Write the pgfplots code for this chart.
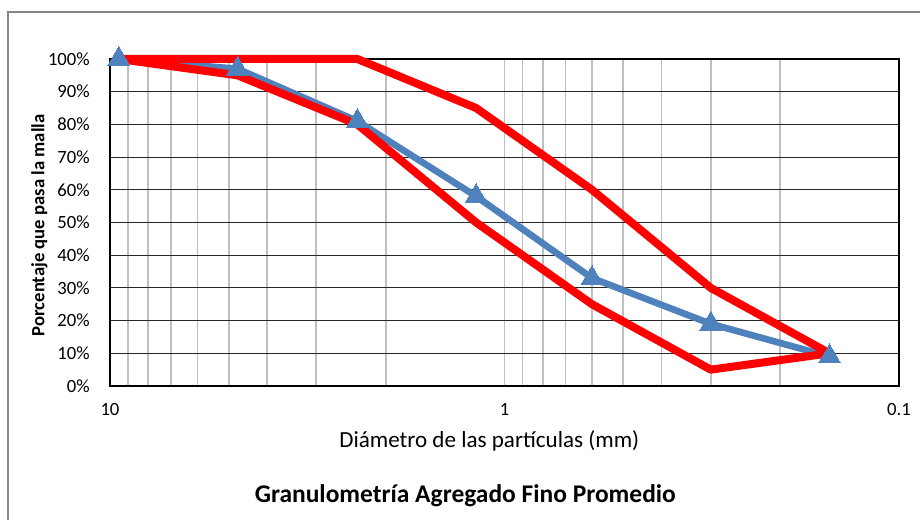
\documentclass[border=0pt]{standalone}
\usepackage{pgfplots}
\pgfplotsset{compat=1.18}
\usepackage{fontspec}
\setmainfont{Carlito}
\definecolor{serieblue}{HTML}{4F81BD}
\definecolor{gridminor}{HTML}{BFBFBF}
\definecolor{framegray}{HTML}{868686}
\begin{document}
\begin{tikzpicture}
\useasboundingbox (0,0) rectangle (690pt,390pt);
\fill[white] (0,0) rectangle (690pt,390pt);
\draw[framegray, line width=0.9pt] (6pt,-2pt) -- (6pt,381pt) -- (695pt,381pt);
\begin{axis}[
  at={(82.5pt,100.5pt)}, anchor=south west,
  scale only axis, width=591.75pt, height=245.25pt,
  xmode=log, x dir=reverse,
  xmin=0.1, xmax=10, ymin=0, ymax=100,
  xtick={0.1,1,10}, xticklabels={0.1,1,10},
  minor xtick={0.2,0.3,0.4,0.5,0.6,0.7,0.8,0.9,2,3,4,5,6,7,8,9},
  ytick={0,10,20,30,40,50,60,70,80,90,100},
  yticklabels={0\%,10\%,20\%,30\%,40\%,50\%,60\%,70\%,80\%,90\%,100\%},
  xmajorgrids, xminorgrids, ymajorgrids,
  major x grid style={gridminor, line width=1.3pt},
  minor x grid style={gridminor, line width=1.3pt},
  major y grid style={black!85, line width=0.8pt},
  major tick length=0pt, minor tick length=0pt,
  axis line style={black, line width=0.9pt},
  tick label style={font=\fontsize{14}{16}\selectfont},
  yticklabel style={inner sep=0pt, xshift=-15pt},
  xticklabel style={inner sep=0pt, yshift=-13pt},
  clip=false,
]
\addplot[serieblue, line width=5pt, mark=triangle*, mark size=9.5pt,
  mark options={fill=serieblue, draw=serieblue, line width=0pt}]
  coordinates {(9.5,100) (4.75,97) (2.36,81) (1.18,58) (0.6,33) (0.3,19) (0.15,9)};
\addplot[red, line width=6pt, line join=round, no marks]
  coordinates {(9.5,100) (4.75,100) (2.36,100) (1.18,85) (0.6,60) (0.3,30) (0.15,10)};
\addplot[red, line width=6pt, line join=round, no marks]
  coordinates {(9.5,100) (4.75,95) (2.36,80) (1.18,50) (0.6,25) (0.3,5) (0.15,10)};
\end{axis}
\node[font=\fontsize{17.3}{20}\selectfont] at (367pt,59pt) {Diámetro de las partículas (mm)};
\node[font=\bfseries\fontsize{19.1}{22}\selectfont] at (349pt,18pt) {Granulometría Agregado Fino Promedio};
\node[font=\bfseries\fontsize{14}{16}\selectfont, rotate=90] at (29.5pt,221pt) {Porcentaje que pasa la malla};
\end{tikzpicture}
\end{document}
